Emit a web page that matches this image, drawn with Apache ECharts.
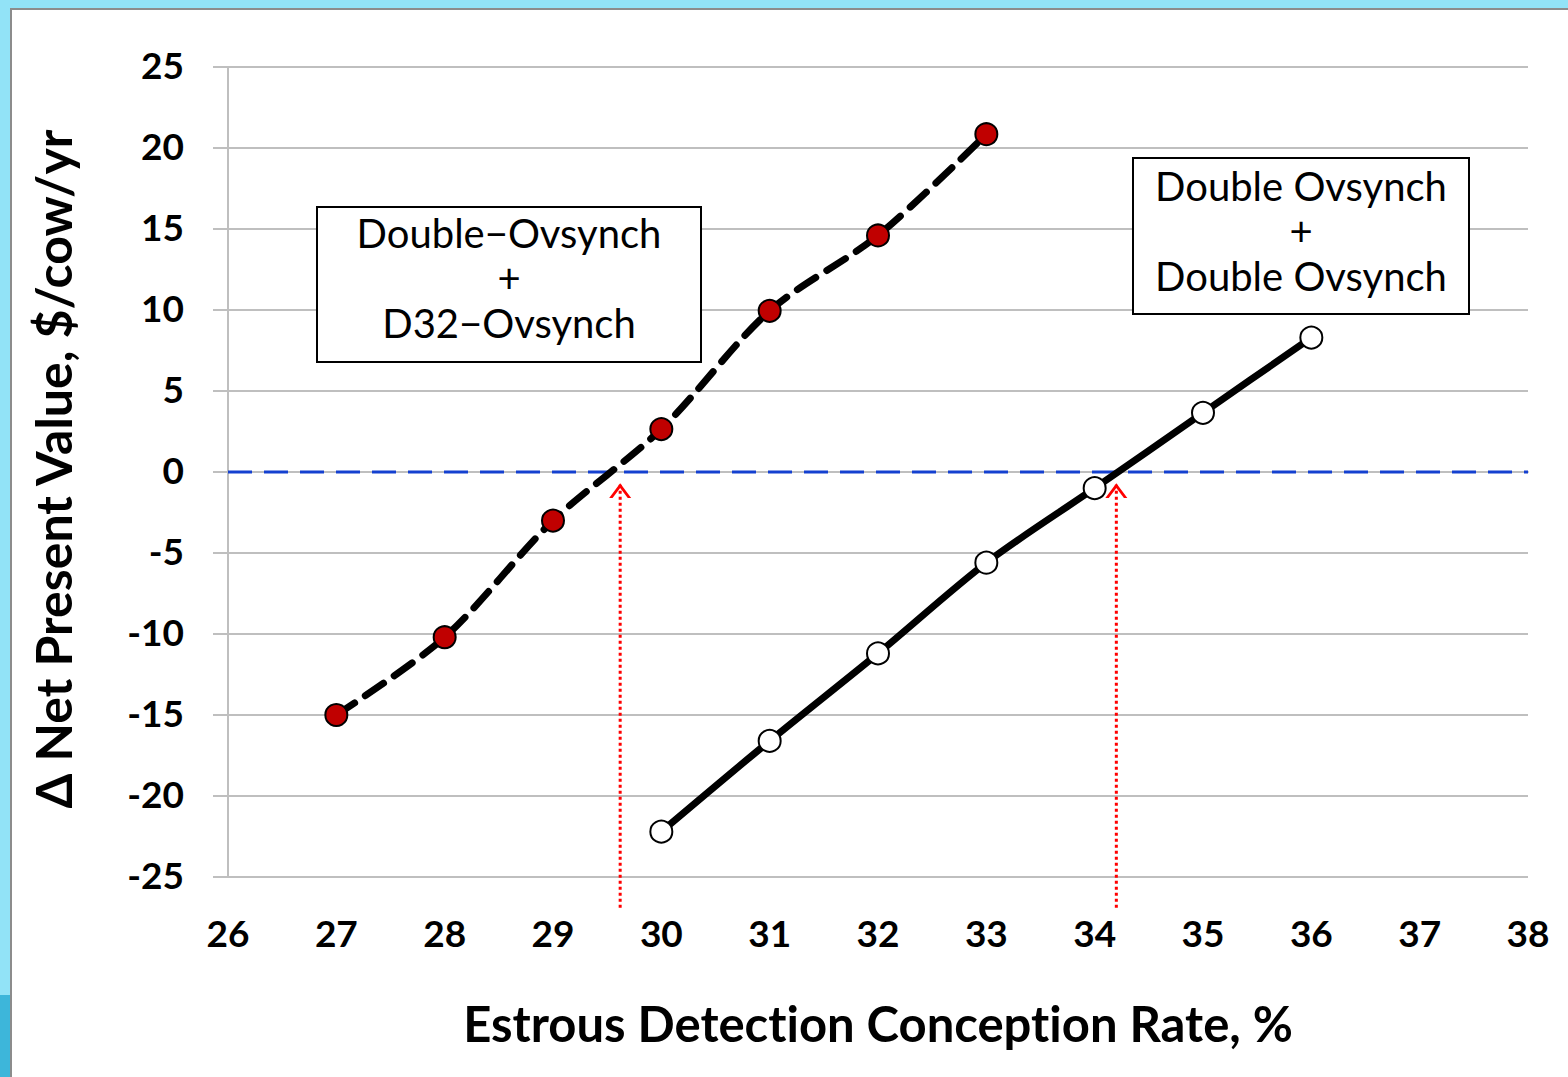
<!DOCTYPE html>
<html>
<head>
<meta charset="utf-8">
<script src="https://cdn.jsdelivr.net/npm/echarts@6/dist/echarts.min.js"></script>
<style>
  html, body { margin: 0; padding: 0; width: 1568px; height: 1077px; overflow: hidden; background: #92e3f7; }
  #frame { position: absolute; left: 10px; top: 8px; width: 1558px; height: 1069px; background: #ffffff; border-left: 2px solid #8c8c8c; border-top: 2px solid #8c8c8c; }
  #deco { position: absolute; left: 0; top: 995px; width: 10px; height: 82px; background: #3db6da; }
  #chart { position: absolute; left: 0; top: 0; width: 1568px; height: 1077px; }
  #chart, #chart text { font-variant-ligatures: none; font-feature-settings: "liga" 0, "clig" 0; }
  #chart text { translate: 0 -3px; }
</style>
</head>
<body>
<div id="deco"></div>
<div id="frame"></div>
<div id="chart"></div>
<script>
// ---- data ----
const dblD32X = [27, 28, 29, 30, 31, 32, 33];
const dblD32Y = [-15.0, -10.2, -3.0, 2.65, 9.95, 14.6, 20.85];
const dblDblX = [30, 31, 32, 33, 34, 35, 36];
const dblDblY = [-22.2, -16.6, -11.2, -5.6, -1.0, 3.65, 8.3];
const breakEvenX = [29.62, 34.2];
const xTicks = [26, 38, 1];      // min, max, interval
const yTicks = [-25, 25, 5];
const arrowBottomY = -26.9;
const arrowTipY = -0.6;
const labelLeft = ['Double\u2212Ovsynch', '+', 'D32\u2212Ovsynch'];
const labelRight = ['Double Ovsynch', '+', 'Double Ovsynch'];
const xTitle = 'Estrous Detection Conception Rate, %';
const yTitle = '\u0394 Net Present Value, $/cow/yr';

const FONT = 'Lato';
const chevron = 'path://M0,18 L11,0 L22,18 L18.6,18 L11,5.6 L3.4,18 Z';

const chart = echarts.init(document.getElementById('chart'), null, { renderer: 'svg' });

const arrowSeries = breakEvenX.map(function (bx) {
  return {
    type: 'line',
    clip: false,
    silent: true,
    z: 4,
    lineStyle: { color: '#ff0000', width: 3, type: [3, 3] },
    itemStyle: { color: '#ff0000', borderWidth: 0 },
    data: [
      { value: [bx, arrowBottomY], symbol: 'none' },
      { value: [bx, arrowTipY], symbol: chevron, symbolSize: [22, 18], symbolOffset: [0, 9], symbolKeepAspect: true }
    ]
  };
});

const option = {
  backgroundColor: 'transparent',
  animation: false,
  grid: { left: 228, right: 40, top: 67, bottom: 200 },
  xAxis: {
    type: 'value',
    min: xTicks[0], max: xTicks[1], interval: xTicks[2],
    axisLine: { show: true, lineStyle: { color: '#bfbfbf', width: 2 } },
    axisTick: { show: false },
    splitLine: { show: false },
    axisLabel: { color: '#000', fontFamily: FONT, fontWeight: 'bold', fontSize: 37, margin: 40 },
    name: xTitle,
    nameLocation: 'middle',
    nameGap: 124,
    nameTextStyle: { color: '#000', fontFamily: FONT, fontWeight: 'bold', fontSize: 49 }
  },
  yAxis: {
    type: 'value',
    min: yTicks[0], max: yTicks[1], interval: yTicks[2],
    axisLine: { show: true, lineStyle: { color: '#bfbfbf', width: 2 } },
    axisTick: { show: true, inside: false, length: 15, lineStyle: { color: '#bfbfbf', width: 2 } },
    splitLine: { show: true, lineStyle: { color: '#bfbfbf', width: 2 } },
    axisLabel: { color: '#000', fontFamily: FONT, fontWeight: 'bold', fontSize: 37, margin: 44 },
    name: yTitle,
    nameLocation: 'middle',
    nameGap: 150,
    nameTextStyle: { color: '#000', fontFamily: FONT, fontWeight: 'bold', fontSize: 50 }
  },
  series: [
    {
      type: 'line',
      silent: true,
      z: 1,
      symbol: 'none',
      lineStyle: { color: '#1440d0', width: 3, type: [24, 12] },
      data: [[xTicks[0], 0], [xTicks[1], 0]]
    },
    {
      type: 'line',
      z: 3,
      smooth: 0.3,
      symbol: 'circle',
      symbolSize: 22,
      lineStyle: { color: '#000', width: 7, type: [22, 13], cap: 'round' },
      itemStyle: { color: '#c00000', borderColor: '#000', borderWidth: 2 },
      data: dblD32X.map(function (x, i) { return [x, dblD32Y[i]]; })
    },
    {
      type: 'line',
      z: 3,
      smooth: 0.3,
      symbol: 'circle',
      symbolSize: 22,
      lineStyle: { color: '#000', width: 7 },
      itemStyle: { color: '#ffffff', borderColor: '#000', borderWidth: 2 },
      data: dblDblX.map(function (x, i) { return [x, dblDblY[i]]; })
    }
  ].concat(arrowSeries),
  graphic: [
    {
      type: 'group', left: 316, top: 206, z: 10,
      children: [
        { type: 'rect', z: 10, shape: { x: 0, y: 0, width: 384, height: 155 }, style: { fill: '#fff', stroke: '#000', lineWidth: 2 } },
        { type: 'text', z: 11, x: 192, y: 74, style: { text: labelLeft.join('\n'), fill: '#000', font: '40px ' + FONT, align: 'center', verticalAlign: 'middle', lineHeight: 45 } }
      ]
    },
    {
      type: 'group', left: 1132, top: 157, z: 10,
      children: [
        { type: 'rect', z: 10, shape: { x: 0, y: 0, width: 336, height: 156 }, style: { fill: '#fff', stroke: '#000', lineWidth: 2 } },
        { type: 'text', z: 11, x: 168, y: 76, style: { text: labelRight.join('\n'), fill: '#000', font: '40px ' + FONT, align: 'center', verticalAlign: 'middle', lineHeight: 45 } }
      ]
    }
  ]
};
chart.setOption(option);
</script>
</body>
</html>
